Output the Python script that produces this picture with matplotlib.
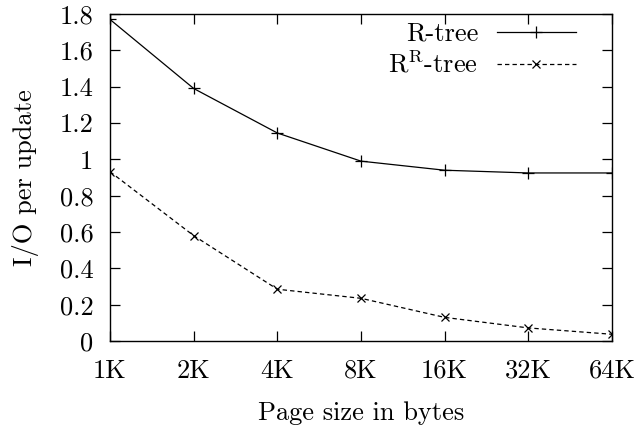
import matplotlib.pyplot as plt
import numpy as np

plt.rcParams['font.family'] = ['cmr10', 'DejaVu Serif']
plt.rcParams['mathtext.fontset'] = 'cm'
plt.rcParams['axes.formatter.use_mathtext'] = True

# data
page_sizes = ['1K', '2K', '4K', '8K', '16K', '32K', '64K']
rtree = [1.77, 1.39, 1.145, 0.99, 0.94, 0.925, 0.925]
rrtree = [0.932, 0.58, 0.285, 0.235, 0.13, 0.072, 0.037]
yticks = [0, 0.2, 0.4, 0.6, 0.8, 1, 1.2, 1.4, 1.6, 1.8]
ytick_labels = ['0', '0.2', '0.4', '0.6', '0.8', '1', '1.2', '1.4', '1.6', '1.8']

fs = 19

fig = plt.figure(figsize=(6.35, 4.28), dpi=100)
ax = fig.add_axes([110 / 635, 1 - 341 / 428, 502 / 635, 327 / 428])

x = np.arange(len(page_sizes))
ax.plot(x, rtree, color='black', lw=0.9, marker='+', ms=8, mew=0.9, label='R-tree')
ax.plot(x, rrtree, color='black', lw=0.9, ls=(0, (3.5, 2.5)), marker='x', ms=6, mew=0.9,
        label=r'R$^{\mathrm{R}}$-tree')

ax.set_xlim(0, len(page_sizes) - 1)
ax.set_ylim(0, 1.8)
ax.set_xticks(x)
ax.set_xticklabels(page_sizes)
ax.set_yticks(yticks)
ax.set_yticklabels(ytick_labels)
ax.tick_params(direction='in', length=7, width=0.9, labelsize=fs,
               top=True, right=True)
ax.tick_params(axis='x', pad=13)
ax.tick_params(axis='y', pad=12)
for s in ax.spines.values():
    s.set_linewidth(1.0)

ax.set_xlabel('Page size in bytes', fontsize=fs, labelpad=13)
ax.set_ylabel('I/O per update', fontsize=fs, labelpad=15)

ax.legend(loc='upper right', frameon=False, markerfirst=False, fontsize=fs,
          handlelength=3.0, handletextpad=0.7, borderaxespad=0, borderpad=0,
          labelspacing=0.2, bbox_to_anchor=(0.928, 0.975))

fig.savefig('out.png', dpi=100)
